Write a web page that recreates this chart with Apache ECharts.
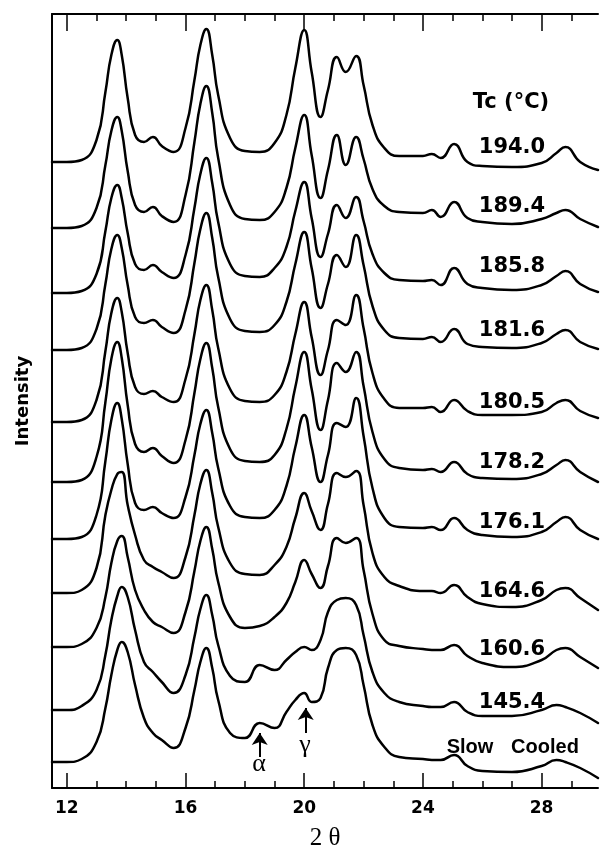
<!DOCTYPE html>
<html>
<head>
<meta charset="utf-8">
<script src="https://cdn.jsdelivr.net/npm/echarts@6/dist/echarts.min.js"></script>
<style>
html,body{margin:0;padding:0;background:#fff;}
#chart{width:600px;height:848px;}
</style>
</head>
<body>
<div id="chart"></div>
<script>
// 2θ sample positions shared by every pattern
const twoTheta = [11.5, 12.0, 12.5, 13.0, 13.3, 13.5, 13.7, 13.85, 14.05, 14.3, 14.6, 14.9, 15.2, 15.6, 16.0, 16.3, 16.5, 16.7, 16.9, 17.1, 17.5, 18.0, 18.5, 19.0, 19.4, 19.7, 20.0, 20.25, 20.55, 20.8, 21.1, 21.4, 21.75, 22.0, 22.3, 22.7, 23.2, 24.0, 24.3, 24.6, 25.05, 25.5, 26.0, 27.0, 28.0, 28.5, 28.8, 29.3, 29.9];

// intensities (stacked, arbitrary units)
const tc194_0 = [638, 638, 640, 660, 708, 745, 760, 745, 702, 665, 658, 663, 654, 648, 672, 720, 755, 771, 745, 705, 662, 649, 648, 657, 685, 732, 770, 728, 683, 710, 743, 728, 744, 715, 675, 652, 644, 644, 646, 642, 656, 638, 634, 633, 637, 647, 653, 638, 630];
const tc189_4 = [572, 572, 574, 592, 635, 669, 683, 669, 629, 595, 588, 593, 584, 578, 605, 658, 696, 714, 687, 642, 595, 581, 580, 588, 612, 652, 685, 645, 602, 630, 665, 635, 663, 641, 611, 594, 588, 587, 590, 583, 598, 582, 578, 576, 581, 587, 590, 581, 573];
const tc185_8 = [507, 507, 509, 526, 569, 602, 615, 602, 567, 536, 530, 535, 528, 522, 545, 592, 626, 642, 617, 578, 536, 524, 523, 532, 553, 589, 618, 582, 543, 566, 595, 582, 603, 579, 546, 527, 520, 519, 520, 515, 532, 516, 512, 510, 515, 524, 529, 516, 508];
const tc181_6 = [450, 450, 452, 471, 516, 551, 565, 552, 515, 483, 477, 480, 473, 467, 490, 537, 571, 587, 562, 523, 481, 469, 468, 475, 498, 536, 568, 532, 492, 516, 545, 533, 565, 535, 494, 470, 462, 461, 463, 458, 471, 456, 453, 452, 457, 466, 470, 458, 451];
const tc180_5 = [378, 378, 380, 400, 449, 487, 502, 488, 447, 413, 406, 409, 403, 398, 421, 466, 500, 515, 490, 452, 411, 399, 398, 405, 428, 466, 498, 463, 425, 450, 480, 475, 505, 472, 427, 401, 392, 392, 393, 388, 400, 389, 385, 385, 388, 397, 400, 389, 382];
const tc178_2 = [318, 318, 320, 343, 398, 441, 458, 442, 395, 356, 348, 352, 344, 337, 360, 407, 441, 457, 432, 393, 351, 339, 338, 345, 371, 413, 448, 411, 370, 400, 437, 428, 448, 414, 368, 341, 332, 330, 331, 328, 338, 326, 322, 321, 326, 335, 340, 328, 318];
const tc176_1 = [261, 261, 263, 285, 339, 380, 397, 381, 336, 297, 290, 293, 287, 282, 303, 345, 376, 390, 367, 332, 294, 283, 282, 290, 314, 353, 385, 353, 318, 345, 377, 373, 402, 364, 312, 282, 273, 272, 273, 270, 282, 270, 265, 263, 268, 278, 283, 270, 261];
const tc164_6 = [207, 207, 210, 232, 285, 310, 326, 328, 295, 265, 240, 233, 228, 222, 243, 285, 316, 330, 307, 273, 237, 226, 225, 235, 253, 282, 307, 289, 270, 296, 327, 323, 329, 295, 247, 223, 214, 209, 209, 207, 215, 203, 196, 193, 200, 210, 212, 202, 190];
const tc160_6 = [153, 153, 156, 172, 203, 237, 259, 264, 243, 210, 190, 178, 173, 167, 188, 229, 259, 273, 251, 218, 183, 172, 174, 183, 197, 218, 240, 226, 212, 234, 262, 257, 262, 230, 186, 160, 154, 151, 150, 150, 155, 144, 137, 133, 140, 150, 152, 143, 132];
const tc145_4 = [90, 90, 94, 110, 145, 180, 204, 213, 203, 170, 138, 128, 118, 107, 125, 163, 191, 205, 185, 155, 124, 118, 135, 130, 140, 148, 153, 150, 160, 188, 200, 202, 195, 165, 128, 107, 98, 94, 93, 93, 98, 88, 84, 84, 90, 95, 93, 87, 77];
const slowCooled = [38, 38, 41, 58, 92, 125, 150, 158, 148, 115, 82, 67, 60, 52, 72, 110, 138, 152, 132, 100, 67, 62, 77, 72, 88, 100, 107, 98, 102, 132, 150, 152, 145, 115, 75, 53, 43, 41, 40, 40, 45, 34, 29, 28, 34, 40, 38, 32, 22];

const curves = [tc194_0, tc189_4, tc185_8, tc181_6, tc180_5, tc178_2, tc176_1, tc164_6, tc160_6, tc145_4, slowCooled];
const curveLabels = ['194.0', '189.4', '185.8', '181.6', '180.5', '178.2', '176.1', '164.6', '160.6', '145.4', 'Slow Cooled'];

const majorTicks = [12, 16, 20, 24, 28];
const minorTicks = [12, 13, 14, 15, 16, 17, 18, 19, 20, 21, 22, 23, 24, 25, 26, 27, 28, 29];

// arrows marking α and γ reflections on the slow-cooled pattern
const alphaPos = 18.5;
const gammaPos = 20.05;

const chart = echarts.init(document.getElementById('chart'), null, {renderer: 'canvas'});

const X_MIN = 11.5, X_MAX = 29.9;
const black = '#000';

function baseX(extra) {
  return Object.assign({
    type: 'value', min: X_MIN, max: X_MAX, gridIndex: 0,
    splitLine: {show: false}, axisLabel: {show: false},
    axisLine: {show: false}, axisTick: {show: false}
  }, extra);
}

const series = curves.map((arr, k) => {
  const s = {
    name: curveLabels[k],
    type: 'line',
    xAxisIndex: 0, yAxisIndex: 0,
    data: twoTheta.map((x, i) => [x, arr[i]]),
    showSymbol: false,
    smooth: 0.5,
    silent: true,
    lineStyle: {color: black, width: 2.5, join: 'round', cap: 'round'},
    z: 3
  };
  if (k === curves.length - 1) {
    s.markLine = {
      silent: true,
      symbol: ['none', 'arrow'],
      symbolSize: 12,
      label: {show: false},
      lineStyle: {color: black, width: 2, type: 'solid'},
      data: [
        [{coord: [alphaPos, 43]}, {coord: [alphaPos, 67]}],
        [{coord: [gammaPos, 67]}, {coord: [gammaPos, 92]}]
      ]
    };
  }
  return s;
});

const labelFont = 'bold 21px "DejaVu Sans"';
const labelY = [148, 207, 267, 331, 403, 463, 523, 592, 650, 703];
const graphics = [
  {type: 'text', x: 511, y: 103, style: {text: 'Tc (°C)', font: labelFont, fill: black, textAlign: 'center', textVerticalAlign: 'middle'}},
  {type: 'text', x: 470, y: 747, style: {text: 'Slow', font: 'bold 20px "Liberation Sans"', fill: black, textAlign: 'center', textVerticalAlign: 'middle'}},
  {type: 'text', x: 545, y: 747, style: {text: 'Cooled', font: 'bold 20px "Liberation Sans"', fill: black, textAlign: 'center', textVerticalAlign: 'middle'}},
  {type: 'text', x: 259, y: 764, style: {text: 'α', font: '26px "Liberation Serif"', fill: black, textAlign: 'center', textVerticalAlign: 'middle'}},
  {type: 'text', x: 305, y: 745, style: {text: 'γ', font: '26px "Liberation Serif"', fill: black, textAlign: 'center', textVerticalAlign: 'middle'}}
];
labelY.forEach((y, k) => {
  graphics.push({type: 'text', x: 512, y: y, style: {text: curveLabels[k], font: labelFont, fill: black, textAlign: 'center', textVerticalAlign: 'middle'}});
});

chart.setOption({
  animation: false,
  backgroundColor: '#fff',
  grid: {left: 52, right: 2, top: 14, bottom: 60, containLabel: false, outerBoundsMode: 'none'},
  xAxis: [
    baseX({
      position: 'bottom',
      axisLine: {show: true, onZero: false, lineStyle: {color: black, width: 2}},
      axisTick: {show: true, inside: true, length: 15, customValues: majorTicks, lineStyle: {color: black, width: 1.5}},
      axisLabel: {show: true, customValues: majorTicks, margin: 12, color: black, fontFamily: 'DejaVu Sans', fontWeight: 'bold', fontSize: 17},
      name: '2 θ', nameLocation: 'middle', nameGap: 38,
      nameTextStyle: {fontFamily: 'Liberation Serif', fontSize: 25, color: black}
    }),
    baseX({
      position: 'bottom',
      axisTick: {show: true, inside: true, length: 7, customValues: minorTicks, lineStyle: {color: black, width: 1.5}}
    }),
    baseX({
      position: 'top',
      axisLine: {show: true, onZero: false, lineStyle: {color: black, width: 2}},
      axisTick: {show: true, inside: true, length: 17, customValues: majorTicks, lineStyle: {color: black, width: 1.5}}
    }),
    baseX({
      position: 'top',
      axisTick: {show: true, inside: true, length: 7, customValues: minorTicks, lineStyle: {color: black, width: 1.5}}
    })
  ],
  yAxis: [{
    type: 'value', min: 12, max: 786, position: 'left',
    axisLine: {show: true, onZero: false, lineStyle: {color: black, width: 2}},
    axisTick: {show: false}, axisLabel: {show: false}, splitLine: {show: false},
    name: 'Intensity', nameLocation: 'middle', nameGap: 20,
    nameTextStyle: {fontFamily: 'DejaVu Sans', fontWeight: 'bold', fontSize: 18, color: black}
  }],
  series: series,
  graphic: graphics
});
</script>
</body>
</html>
